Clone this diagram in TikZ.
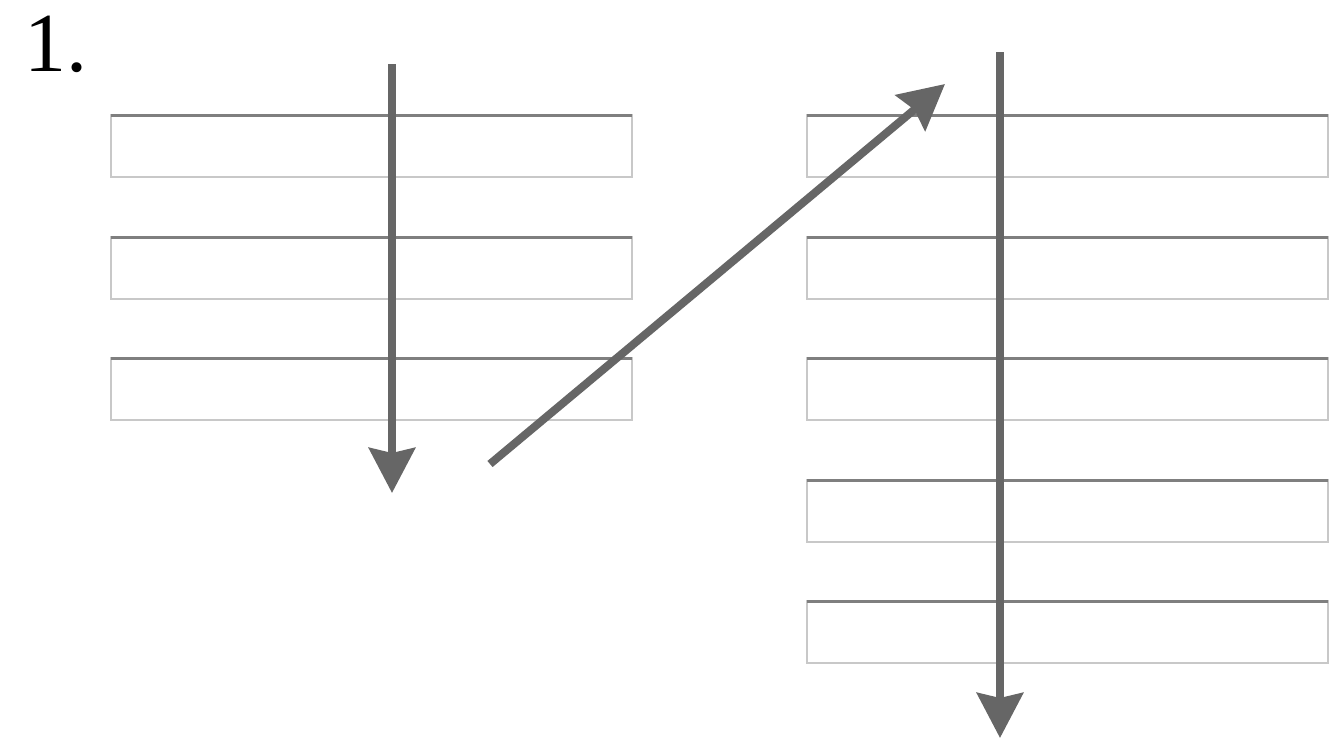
\documentclass[tikz,border=0pt]{standalone}
\usepackage{fontspec}
\setmainfont{Liberation Serif}
\usetikzlibrary{arrows.meta}
\definecolor{arrowgray}{HTML}{666666}
\definecolor{topgray}{HTML}{7F7F7F}
\definecolor{sidegray}{HTML}{C8C8C8}
\tikzset{
  bar/.style={draw=sidegray, line width=2pt},
  bartop/.style={draw=topgray, line width=3pt},
  bigarrow/.style={draw=arrowgray, line width=8pt, -{Stealth[length=45pt,width=46pt,inset=5pt]}},
}
\newcommand{\barbox}[3]{%
  \draw[bar] (#1,#2) rectangle (#1+521,#2+62);
  \draw[bartop] (#1,#2) -- (#1+521,#2);
  \node[coordinate] (#3) at (#1,#2) {};
}
\begin{document}
\begin{tikzpicture}[x=1pt,y=-1pt]
\useasboundingbox (0,0) rectangle (1336,750);
\node[anchor=base west, inner sep=0pt, font=\fontsize{84}{84}\selectfont] (label) at (24,71) {1.};
\barbox{111}{115}{L1}
\barbox{111}{237}{L2}
\barbox{111}{358}{L3}
\barbox{807}{115}{R1}
\barbox{807}{237}{R2}
\barbox{807}{358}{R3}
\barbox{807}{480}{R4}
\barbox{807}{601}{R5}
\coordinate (a1s) at (392,64);
\coordinate (a1e) at (392,493);
\coordinate (a2s) at (490,464);
\coordinate (a2e) at (945,84);
\coordinate (a3s) at (1000,52);
\coordinate (a3e) at (1000,738);
\draw[bigarrow] (a1s) -- (a1e);
\draw[bigarrow] (a2s) -- (a2e);
\draw[bigarrow] (a3s) -- (a3e);
\end{tikzpicture}
\end{document}
